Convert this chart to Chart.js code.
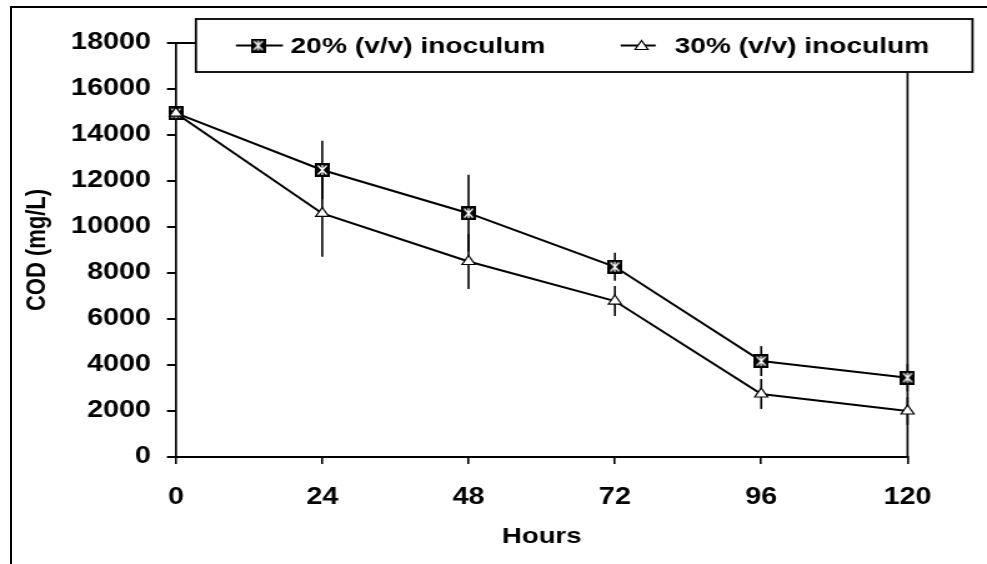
<!DOCTYPE html>
<html>
<head>
<meta charset="utf-8">
<title>COD vs Hours</title>
<script src="https://cdn.jsdelivr.net/npm/chart.js@4.4.1/dist/chart.umd.min.js"></script>
<style>
    html, body { margin: 0; padding: 0; background: #fff; overflow: hidden; }
    body { width: 987px; height: 564px; position: relative; }
    #frame {
        position: absolute; left: 10px; top: 6px;
        width: 1200px; height: 900px;
        border: 2px solid #000;
    }
    #codChart { position: absolute; left: 0; top: 0; width: 987px; height: 564px; }
</style>
</head>
<body>
<div id="frame"></div>
<canvas id="codChart" width="790" height="564" style="width:987px;height:564px"></canvas>
<script>
// Data
const hours = [0, 24, 48, 72, 96, 120];
const cod20 = [14950, 12480, 10600, 8270, 4170, 3450];
const err20 = [0, 1270, 1670, 610, 650, 600];
const cod30 = [14950, 10590, 8500, 6780, 2740, 2000];
const err30 = [0, 1880, 1200, 650, 650, 600];
const yTicks = [0, 2000, 4000, 6000, 8000, 10000, 12000, 14000, 16000, 18000];

const FONT = '"Liberation Sans", Arial, sans-serif';

// black square with a white asterisk
function makeSquareMarker() {
    const c = document.createElement('canvas');
    c.width = 12;
    c.height = 14;
    const g = c.getContext('2d');
    g.fillStyle = '#000';
    g.fillRect(0, 0, 12, 14);
    g.strokeStyle = '#fff';
    g.lineWidth = 1.25;
    g.beginPath();
    g.moveTo(2.5, 2.5); g.lineTo(9.5, 11.5);
    g.moveTo(9.5, 2.5); g.lineTo(2.5, 11.5);
    g.moveTo(6, 2); g.lineTo(6, 12);
    g.stroke();
    return c;
}
const squareMarker = makeSquareMarker();

function drawTriangle(ctx, x, y, r) {
    ctx.beginPath();
    ctx.moveTo(x, y - r);
    ctx.lineTo(x + r * 0.866, y + r / 2);
    ctx.lineTo(x - r * 0.866, y + r / 2);
    ctx.closePath();
    ctx.fillStyle = '#fff';
    ctx.fill();
    ctx.lineWidth = 1.2;
    ctx.strokeStyle = '#000';
    ctx.stroke();
}

// plot area top/right border and the error bars
const plotExtras = {
    id: 'plotExtras',
    beforeDatasetsDraw(chart) {
        const { ctx, chartArea, scales } = chart;
        ctx.save();
        ctx.strokeStyle = '#000';
        ctx.lineWidth = 2;
        ctx.beginPath();
        ctx.moveTo(chartArea.left, chartArea.top);
        ctx.lineTo(chartArea.right, chartArea.top);
        ctx.stroke();
        ctx.lineWidth = 1.6;
        ctx.beginPath();
        ctx.moveTo(chartArea.right, chartArea.top);
        ctx.lineTo(chartArea.right, chartArea.bottom);
        ctx.stroke();

        const errs = [err20, err30];
        chart.data.datasets.forEach((ds, di) => {
            const meta = chart.getDatasetMeta(di);
            meta.data.forEach((pt, i) => {
                const v = ds.data[i].y;
                const e = errs[di][i];
                if (!e) return;
                ctx.beginPath();
                ctx.moveTo(pt.x, scales.y.getPixelForValue(v + e));
                ctx.lineTo(pt.x, scales.y.getPixelForValue(v - e));
                ctx.stroke();
            });
        });
        ctx.restore();
    },
    afterDraw(chart) {
        // legend box laid over the top of the plot
        const { ctx } = chart;
        const bx = 156.8, by = 19, bw = 621.6, bh = 53;
        const cy = by + bh / 2;
        ctx.save();
        ctx.fillStyle = '#fff';
        ctx.fillRect(bx, by, bw, bh);
        ctx.strokeStyle = '#000';
        ctx.lineWidth = 1.8;
        ctx.strokeRect(bx, by, bw, bh);

        ctx.lineWidth = 2;
        ctx.beginPath();
        ctx.moveTo(188.8, cy); ctx.lineTo(226.4, cy);
        ctx.moveTo(496.8, cy); ctx.lineTo(524.8, cy);
        ctx.stroke();
        ctx.drawImage(squareMarker, 206.6 - 6, cy - 7);
        drawTriangle(ctx, 513.5, cy + 1, 6);

        ctx.fillStyle = '#000';
        ctx.font = 'bold 22.5px ' + FONT;
        ctx.textBaseline = 'middle';
        ctx.fillText(chart.data.datasets[0].label, 232.6, cy + 1);
        ctx.fillText(chart.data.datasets[1].label, 540, cy + 1);
        ctx.restore();
    }
};

function initChart() {
    const ctx = document.getElementById('codChart').getContext('2d');
    new Chart(ctx, {
        type: 'line',
        data: {
            datasets: [
                {
                    label: '20% (v/v) inoculum',
                    data: hours.map((h, i) => ({ x: h, y: cod20[i] })),
                    borderColor: '#000',
                    borderWidth: 2,
                    pointStyle: squareMarker,
                    pointRadius: 6,
                    tension: 0,
                    clip: false,
                    order: 1
                },
                {
                    label: '30% (v/v) inoculum',
                    data: hours.map((h, i) => ({ x: h, y: cod30[i] })),
                    borderColor: '#000',
                    borderWidth: 2,
                    pointStyle: 'triangle',
                    pointRadius: 6,
                    pointBackgroundColor: '#fff',
                    pointBorderColor: '#000',
                    pointBorderWidth: 1.2,
                    tension: 0,
                    clip: false,
                    order: 0
                }
            ]
        },
        options: {
            responsive: false,
            devicePixelRatio: 1,
            animation: false,
            layout: { padding: { left: 0, right: 63.6, top: 43, bottom: 0 } },
            plugins: {
                legend: { display: false },
                tooltip: { enabled: false }
            },
            scales: {
                x: {
                    type: 'linear',
                    min: 0,
                    max: 120,
                    afterFit: (s) => { s.height = 107; },
                    ticks: {
                        stepSize: 24,
                        color: '#000',
                        padding: 20,
                        font: { family: FONT, size: 23, weight: 'bold' }
                    },
                    grid: { drawOnChartArea: false, drawTicks: true, tickLength: 7, color: '#000', lineWidth: 1.6 },
                    border: { display: true, color: '#000', width: 2 },
                    title: {
                        display: true,
                        text: 'Hours',
                        color: '#000',
                        padding: 14,
                        font: { family: FONT, size: 22, weight: 'bold' }
                    }
                },
                y: {
                    min: 0,
                    max: 18000,
                    afterFit: (s) => { s.width = 140.8; },
                    afterBuildTicks: (s) => { s.ticks = yTicks.map(v => ({ value: v })); },
                    ticks: {
                        color: '#000',
                        padding: 12.8,
                        callback: (v) => String(v),
                        font: { family: FONT, size: 23, weight: 'bold' }
                    },
                    grid: { drawOnChartArea: false, drawTicks: true, tickLength: 7.2, color: '#000', lineWidth: 2 },
                    border: { display: true, color: '#000', width: 1.7 },
                    title: {
                        display: true,
                        text: 'COD (mg/L)',
                        color: '#000',
                        padding: 17,
                        font: { family: FONT, size: 22, weight: 'bold' }
                    }
                }
            }
        },
        plugins: [plotExtras]
    });
}

document.addEventListener('DOMContentLoaded', initChart);
</script>
</body>
</html>
